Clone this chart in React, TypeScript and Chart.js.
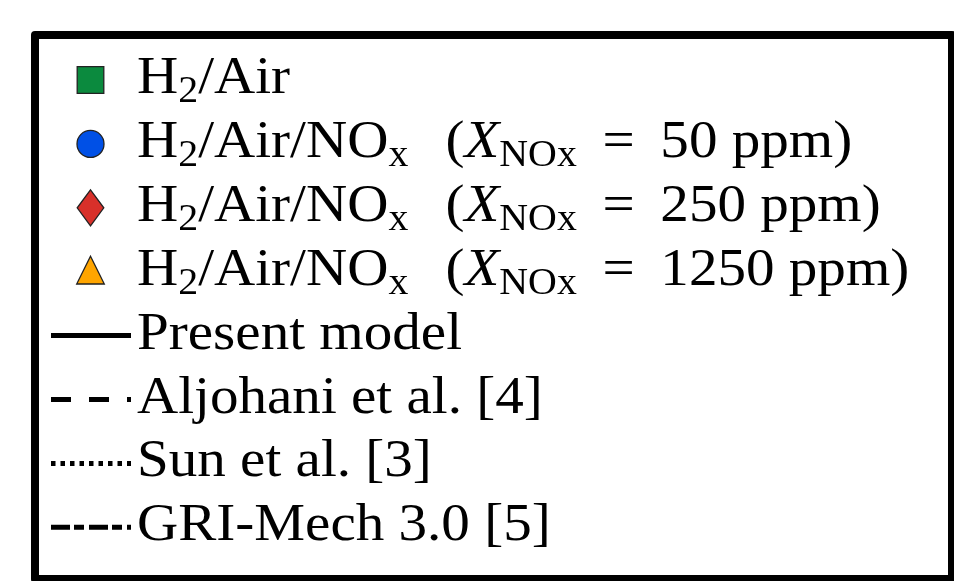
import React, { useEffect, useRef } from "react";
import { Chart, registerables } from "chart.js";

Chart.register(...registerables);

// Legend entries (markup: _{..} subscript, $..$ italic, ~ thin extra space)
const markerLabels = [
  "H_{2}/Air",
  "H_{2}/Air/NO_{x} ~~($X$_{NOx} ~= ~50 ppm)",
  "H_{2}/Air/NO_{x} ~~($X$_{NOx} ~= ~250 ppm)",
  "H_{2}/Air/NO_{x} ~~($X$_{NOx} ~= ~1250 ppm)",
];
const markerShapes = ["rect", "circle", "diamond", "triangle"];
const markerColors = ["#0b8a3e", "#0050e6", "#d8302a", "#ffa500"];

const lineLabels = ["Present model", "Aljohani et al. [4]", "Sun et al. [3]", "GRI-Mech 3.0 [5]"];
const lineDashes: number[][] = [[], [20, 18], [4.5, 5], [19, 4, 10, 5]];

type Seg = { text: string; sub: boolean; italic: boolean; space?: number };

function parse(s: string): Seg[] {
  const out: Seg[] = [];
  let italic = false;
  let buf = "";
  const flush = () => {
    if (buf) out.push({ text: buf, sub: false, italic });
    buf = "";
  };
  for (let i = 0; i < s.length; i++) {
    const c = s[i];
    if (c === "_" && s[i + 1] === "{") {
      flush();
      const end = s.indexOf("}", i);
      out.push({ text: s.slice(i + 2, end), sub: true, italic: false });
      i = end;
    } else if (c === "$") {
      flush();
      italic = !italic;
    } else if (c === "~") {
      flush();
      out.push({ text: "", sub: false, italic: false, space: 0.2 });
    } else {
      buf += c;
    }
  }
  flush();
  return out;
}

const FONT = '"Liberation Serif", "Times New Roman", serif';
const SIZE = 53;
const SUB = 37;

function drawRich(ctx: CanvasRenderingContext2D, s: string, x: number, y: number, sx: number) {
  ctx.save();
  ctx.translate(x, y);
  ctx.scale(sx, 1);
  ctx.fillStyle = "#000";
  ctx.textBaseline = "alphabetic";
  ctx.textAlign = "left";
  let cx = 0;
  for (const seg of parse(s)) {
    if (seg.space) {
      cx += seg.space * SIZE;
      continue;
    }
    ctx.font = `${seg.italic ? "italic " : ""}${seg.sub ? SUB : SIZE}px ${FONT}`;
    ctx.fillText(seg.text, cx, seg.sub ? 9 : 0);
    cx += ctx.measureText(seg.text).width;
  }
  ctx.restore();
}

const legendBoxPlugin = {
  id: "legendBox",
  afterDraw(chart: any) {
    const ctx: CanvasRenderingContext2D = chart.ctx;
    const W = chart.width;
    const H = chart.height;
    ctx.save();
    ctx.fillStyle = "#fff";
    ctx.fillRect(0, 0, W, H);

    // frame
    ctx.lineWidth = 8;
    ctx.lineJoin = "round";
    ctx.strokeStyle = "#000";
    ctx.strokeRect(35, 35, 917, 544);

    // text scale calibration
    ctx.font = `${SIZE}px ${FONT}`;
    const sx = 325 / ctx.measureText("Present model").width;

    const rowY0 = 80;
    const step = 63.9;
    const textX = 137;
    const datasets = chart.data.datasets;
    datasets.forEach((ds: any, i: number) => {
      const y = rowY0 + step * i;
      const cx = 90.5;
      if (ds.type === "line") {
        ctx.save();
        ctx.strokeStyle = ds.borderColor;
        ctx.lineWidth = ds.borderWidth;
        ctx.lineCap = "butt";
        ctx.setLineDash(ds.borderDash || []);
        ctx.beginPath();
        ctx.moveTo(51, y);
        ctx.lineTo(131, y);
        ctx.stroke();
        ctx.restore();
      } else {
        ctx.save();
        ctx.fillStyle = ds.backgroundColor;
        ctx.strokeStyle = ds.borderColor;
        ctx.lineWidth = ds.borderWidth;
        ctx.lineJoin = "miter";
        ctx.beginPath();
        const st = ds.pointStyle;
        if (st === "rect") {
          ctx.rect(cx - 13.3, y - 13.3, 26.6, 26.6);
        } else if (st === "circle") {
          ctx.arc(cx, y, 13.5, 0, Math.PI * 2);
        } else if (st === "diamond") {
          ctx.moveTo(cx, y - 18);
          ctx.lineTo(cx + 13.3, y);
          ctx.lineTo(cx, y + 18);
          ctx.lineTo(cx - 13.3, y);
          ctx.closePath();
        } else {
          ctx.moveTo(cx, y - 15.5);
          ctx.lineTo(cx + 13.8, y + 12.3);
          ctx.lineTo(cx - 13.8, y + 12.3);
          ctx.closePath();
        }
        ctx.fill();
        ctx.stroke();
        ctx.restore();
      }
      drawRich(ctx, ds.label, textX, y + 13, sx);
    });
    ctx.restore();
  },
};

export default function App() {
  const ref = useRef<HTMLCanvasElement | null>(null);
  useEffect(() => {
    document.body.style.margin = "0";
    const canvas = ref.current!;
    const datasets: any[] = [];
    markerLabels.forEach((l, i) => {
      datasets.push({
        type: "scatter",
        label: l,
        data: [],
        pointStyle: markerShapes[i],
        backgroundColor: markerColors[i],
        borderColor: "#222",
        borderWidth: 1.3,
      });
    });
    lineLabels.forEach((l, i) => {
      datasets.push({
        type: "line",
        label: l,
        data: [],
        borderColor: "#000",
        borderWidth: 5,
        borderDash: lineDashes[i],
      });
    });
    const chart = new Chart(canvas, {
      type: "scatter",
      data: { datasets },
      options: {
        animation: false,
        responsive: false,
        events: [],
        layout: { padding: 0 },
        plugins: { legend: { display: false }, tooltip: { enabled: false } },
        scales: { x: { display: false }, y: { display: false } },
      },
      plugins: [legendBoxPlugin],
    } as any);
    return () => chart.destroy();
  }, []);
  return (
    <canvas ref={ref} width={954} height={581} style={{ display: "block", width: 954, height: 581 }} />
  );
}
